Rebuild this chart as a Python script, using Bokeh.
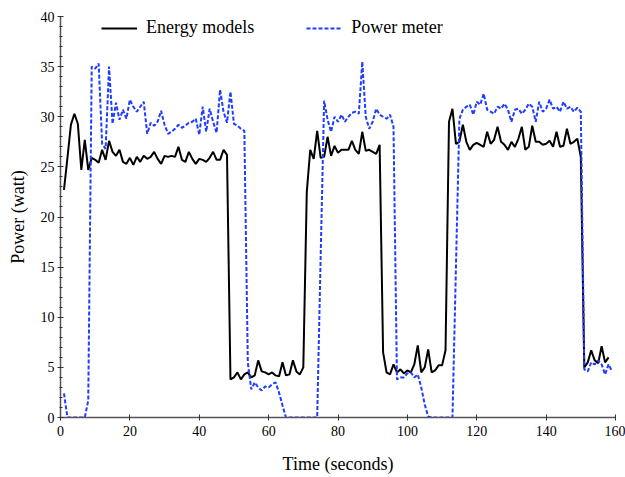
import numpy as np
from bokeh.plotting import figure
from bokeh.models import SingleIntervalTicker, Legend, LegendItem, Range1d
from bokeh.embed import file_html
from bokeh.resources import INLINE

# ---- data ----
energy_t = np.arange(1, 159)
energy_models = [
    22.7, 25.9, 29.2, 30.3, 29.3, 24.7, 27.7, 24.7, 25.9, 25.7,
    25.4, 26.7, 25.7, 27.6, 26.5, 26.1, 26.7, 25.5, 25.3, 25.9,
    25.2, 26.0, 25.5, 26.1, 25.8, 26.0, 26.5, 25.8, 25.3, 26.1,
    26.0, 26.1, 26.0, 27.0, 25.7, 25.5, 26.5, 25.8, 25.3, 25.8,
    25.7, 25.5, 25.9, 26.5, 25.7, 25.7, 26.7, 26.2, 3.8, 4.0,
    4.5, 3.8, 4.3, 4.5, 4.0, 4.2, 5.7, 4.6, 4.5, 4.3,
    4.5, 4.2, 4.1, 5.5, 4.2, 4.3, 5.7, 4.6, 4.3, 5.0,
    22.5, 26.7, 25.8, 28.6, 25.9, 26.0, 28.0, 26.1, 27.1, 26.4,
    26.7, 26.7, 26.7, 27.6, 26.7, 26.3, 28.5, 26.6, 26.7, 26.5,
    26.3, 27.2, 6.5, 4.5, 4.3, 5.3, 4.5, 4.8, 4.4, 4.7,
    4.5, 5.3, 7.2, 4.5, 5.0, 6.8, 4.5, 4.7, 5.2, 5.2,
    6.7, 29.5, 30.8, 27.3, 27.5, 29.2, 27.5, 26.7, 27.2, 27.4,
    27.2, 27.0, 28.5, 27.3, 27.7, 29.0, 27.5, 27.2, 26.7, 27.5,
    27.0, 27.8, 29.0, 26.7, 27.0, 29.1, 27.5, 27.5, 27.2, 27.3,
    27.6, 27.0, 28.5, 27.0, 27.1, 28.8, 27.3, 27.5, 27.8, 26.0,
    5.0, 5.5, 6.7, 5.7, 5.4, 7.1, 5.5, 6.0,
]

meter_t = np.arange(1, 160)
power_meter = [
    2.4, 0.0, 0.0, 0.0, 0.0, 0.0, 0.0, 1.7, 35.0, 34.8,
    35.3, 27.3, 26.8, 35.0, 29.3, 31.4, 29.7, 30.7, 29.8, 31.7,
    31.0, 30.5, 31.0, 31.5, 28.3, 29.4, 29.1, 29.5, 30.6, 29.2,
    28.3, 28.5, 28.8, 29.2, 28.9, 29.1, 29.4, 29.5, 29.8, 28.2,
    31.0, 28.5, 30.8, 29.5, 28.4, 32.7, 30.5, 29.4, 32.5, 29.3,
    29.1, 28.8, 28.6, 5.5, 2.8, 3.5, 3.0, 2.7, 3.1, 3.0,
    3.3, 3.5, 2.5, 1.2, 0.0, 0.0, 0.0, 0.0, 0.0, 0.0,
    0.0, 0.0, 0.0, 0.0, 16.0, 31.6, 29.7, 28.5, 30.0, 29.5,
    30.2, 29.5, 30.0, 30.4, 30.5, 30.3, 35.5, 30.0, 28.8, 29.5,
    30.8, 30.2, 30.0, 29.8, 30.2, 29.0, 3.8, 4.0, 4.0, 4.4,
    4.5, 4.0, 4.3, 3.0, 1.3, 0.1, 0.0, 0.0, 0.0, 0.0,
    0.0, 0.0, 0.0, 15.0, 29.8, 30.7, 31.0, 31.2, 30.2, 31.5,
    31.2, 32.3, 30.7, 30.5, 30.3, 31.0, 30.8, 31.3, 30.7, 29.5,
    30.7, 30.8, 30.3, 30.7, 31.3, 31.0, 29.5, 31.5, 30.5, 30.8,
    31.7, 30.8, 31.0, 30.5, 31.5, 30.8, 31.0, 30.5, 30.9, 30.5,
    4.8, 4.6, 5.5, 5.3, 5.7, 5.3, 4.3, 5.3, 4.6,
]

x_ticks_interval = 20
y_ticks_interval = 5
labels = ["Energy models", "Power meter"]

FONT = "Liberation Serif"

p = figure(width=625, height=477, output_backend="svg", toolbar_location=None,
           x_range=Range1d(0, 160), y_range=Range1d(0, 40),
           min_border_left=60, min_border_right=10, min_border_top=16, min_border_bottom=60)
p.outline_line_color = None
p.grid.visible = False
p.background_fill_color = "white"
p.border_fill_color = "white"

r1 = p.line(energy_t, energy_models, line_color="black", line_width=2)
r2 = p.line(meter_t, power_meter, line_color="#1f3cff", line_width=2, line_dash="4 2")

xa = p.xaxis[0]
xa.ticker = SingleIntervalTicker(interval=x_ticks_interval, num_minor_ticks=0)
xa.axis_label = "Time (seconds)"
ya = p.yaxis[0]
ya.ticker = SingleIntervalTicker(interval=y_ticks_interval, num_minor_ticks=5)
ya.axis_label = "Power (watt)"

for ax in (xa, ya):
    ax.axis_line_color = "#555555"
    ax.axis_line_width = 1.5
    ax.major_tick_line_color = "#333333"
    ax.minor_tick_line_color = "#333333"
    ax.major_tick_in = 3
    ax.major_tick_out = 3
    ax.minor_tick_in = 2
    ax.minor_tick_out = 1
    ax.major_label_text_font = FONT
    ax.major_label_text_font_size = "14px"
    ax.major_label_text_color = "black"
    ax.axis_label_text_font = FONT
    ax.axis_label_text_font_size = "18px"
    ax.axis_label_text_font_style = "normal"
    ax.axis_label_text_color = "black"

xa.minor_tick_line_color = None
xa.major_label_standoff = 5
xa.axis_label_standoff = 15
ya.major_label_standoff = 3
ya.axis_label_standoff = 10

legend = Legend(items=[LegendItem(label=labels[0], renderers=[r1]),
                       LegendItem(label=labels[1], renderers=[r2])],
                orientation="horizontal", location=(41, 379))
legend.background_fill_alpha = 0
legend.border_line_alpha = 0
legend.padding = 0
legend.margin = 0
legend.glyph_width = 36
legend.glyph_height = 16
legend.label_height = 16
legend.label_standoff = 9
legend.spacing = 52
legend.label_text_font = FONT
legend.label_text_font_size = "18px"
legend.label_text_color = "black"
p.add_layout(legend, "center")

open("out.html", "w").write(file_html(p, INLINE))
